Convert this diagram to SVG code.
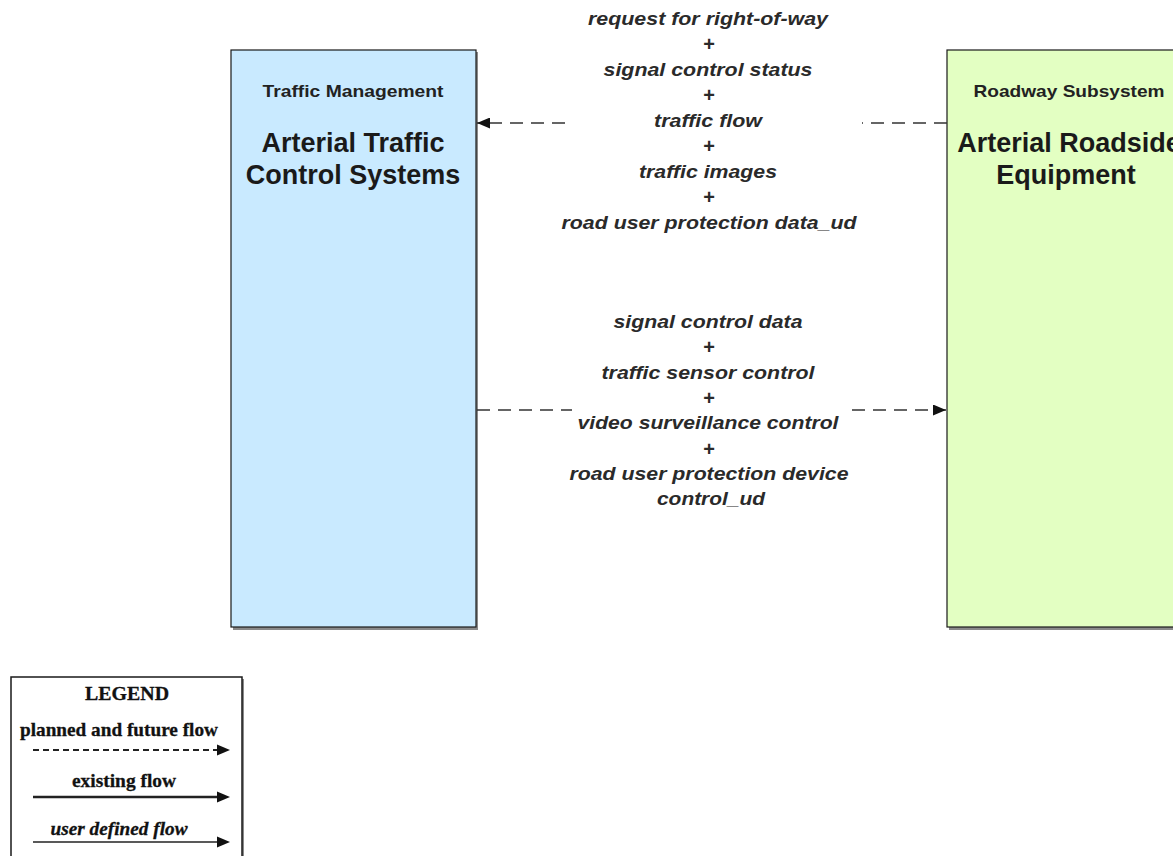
<svg xmlns="http://www.w3.org/2000/svg" width="1173" height="856" viewBox="0 0 1173 856">
<style>
.bg{fill:#ffffff}
.shadow{fill:#8a8a8a}
.box{stroke:#1a1a1a;stroke-width:1.2}
.tm{fill:#c9eaff}
.rs{fill:#e3ffc2}
.sub{font-family:"Liberation Sans",Arial,sans-serif;font-weight:bold;font-size:17px;fill:#222;text-anchor:middle}
.ttl{font-family:"Liberation Sans",Arial,sans-serif;font-weight:bold;font-size:27px;fill:#1a1a1a;text-anchor:middle}
.lbl{font-family:"Liberation Sans",Arial,sans-serif;font-weight:bold;font-style:italic;font-size:19px;fill:#2a2a2a;text-anchor:middle}
.plus{font-family:"Liberation Sans",Arial,sans-serif;font-weight:bold;font-size:20px;fill:#2a2a2a;text-anchor:middle}
.flow{fill:none;stroke:#333;stroke-width:1.5;stroke-dasharray:13 8}
.lg{font-family:"Liberation Serif","Times New Roman",serif;font-weight:bold;font-size:19px;fill:#111;text-anchor:middle;stroke:#111;stroke-width:0.3}
</style>
<defs>
<marker id="ah" viewBox="0 0 13 11" refX="13" refY="5.5" markerWidth="13" markerHeight="11" markerUnits="userSpaceOnUse" orient="auto">
<path d="M0,0 L13,5.5 L0,11 Z" fill="#111"/>
</marker>
</defs>
<rect class="bg" x="0" y="0" width="1173" height="856"/>

<g id="traffic-management">
<rect class="shadow" x="233" y="52" width="245" height="578"/>
<rect class="box tm" x="231" y="50" width="245" height="577"/>
<text class="sub" x="353" y="97" textLength="181" lengthAdjust="spacingAndGlyphs">Traffic Management</text>
<text class="ttl" x="353" y="152">Arterial Traffic</text>
<text class="ttl" x="353" y="184">Control Systems</text>
</g>

<g id="roadway-subsystem">
<rect class="shadow" x="949" y="52" width="245" height="578"/>
<rect class="box rs" x="947" y="50" width="245" height="577"/>
<text class="sub" x="1069" y="97" textLength="191" lengthAdjust="spacingAndGlyphs">Roadway Subsystem</text>
<text class="ttl" x="1069" y="152">Arterial Roadside</text>
<text class="ttl" x="1066" y="184">Equipment</text>
</g>

<g id="connectors">
<line class="flow" x1="565" y1="123" x2="477" y2="123" marker-end="url(#ah)"/>
<line class="flow" x1="947" y1="123" x2="862" y2="123"/>
<line class="flow" x1="477" y1="410" x2="572" y2="410"/>
<line class="flow" x1="852" y1="410" x2="946" y2="410" marker-end="url(#ah)"/>
</g>

<g id="label-rsu-to-tm">
<text class="lbl" x="708" y="25" textLength="240" lengthAdjust="spacingAndGlyphs">request for right-of-way</text>
<text class="plus" x="709" y="51">+</text>
<text class="lbl" x="708" y="76" textLength="209" lengthAdjust="spacingAndGlyphs">signal control status</text>
<text class="plus" x="709" y="102">+</text>
<text class="lbl" x="708" y="127" textLength="108" lengthAdjust="spacingAndGlyphs">traffic flow</text>
<text class="plus" x="709" y="153">+</text>
<text class="lbl" x="708" y="178" textLength="138" lengthAdjust="spacingAndGlyphs">traffic images</text>
<text class="plus" x="709" y="204">+</text>
<text class="lbl" x="709" y="229" textLength="295" lengthAdjust="spacingAndGlyphs">road user protection data_ud</text>
</g>

<g id="label-tm-to-rsu">
<text class="lbl" x="708" y="328" textLength="189" lengthAdjust="spacingAndGlyphs">signal control data</text>
<text class="plus" x="709" y="354">+</text>
<text class="lbl" x="708" y="379" textLength="213" lengthAdjust="spacingAndGlyphs">traffic sensor control</text>
<text class="plus" x="709" y="405">+</text>
<text class="lbl" x="708" y="429" textLength="261" lengthAdjust="spacingAndGlyphs">video surveillance control</text>
<text class="plus" x="709" y="456">+</text>
<text class="lbl" x="709" y="480" textLength="279" lengthAdjust="spacingAndGlyphs">road user protection device</text>
<text class="lbl" x="711" y="505" textLength="108" lengthAdjust="spacingAndGlyphs">control_ud</text>
</g>

<g id="legend">
<rect class="shadow" x="13" y="679" width="231" height="190"/>
<rect x="11" y="677" width="231" height="190" fill="#fff" stroke="#1a1a1a" stroke-width="1.5"/>
<text class="lg" x="127" y="700" textLength="84" lengthAdjust="spacingAndGlyphs">LEGEND</text>
<text class="lg" x="119" y="736" textLength="198" lengthAdjust="spacingAndGlyphs">planned and future flow</text>
<line x1="33" y1="750" x2="218" y2="750" stroke="#222" stroke-width="2" stroke-dasharray="6 4"/>
<path d="M217,744.5 L230,750 L217,755.5 Z" fill="#111"/>
<text class="lg" x="124" y="787" textLength="104" lengthAdjust="spacingAndGlyphs">existing flow</text>
<line x1="33" y1="797" x2="218" y2="797" stroke="#222" stroke-width="2.4"/>
<path d="M217,791.5 L230,797 L217,802.5 Z" fill="#111"/>
<text class="lg" x="119" y="835" font-style="italic" textLength="137" lengthAdjust="spacingAndGlyphs">user defined flow</text>
<line x1="33" y1="842" x2="218" y2="842" stroke="#222" stroke-width="1.6"/>
<path d="M217,836.5 L230,842 L217,847.5 Z" fill="#111"/>
</g>
</svg>
